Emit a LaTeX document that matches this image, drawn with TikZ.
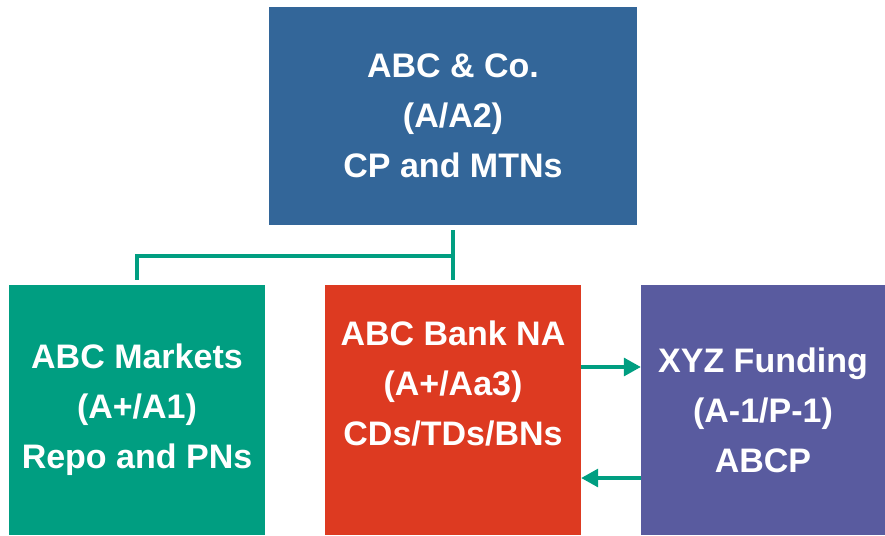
\documentclass[tikz,border=0pt]{standalone}
\usepackage{fontspec}
\setmainfont{Liberation Sans}
\usetikzlibrary{arrows.meta}

\definecolor{coblue}{HTML}{336699}
\definecolor{mktgreen}{HTML}{009E81}
\definecolor{bankred}{HTML}{DD3A21}
\definecolor{fundpurple}{HTML}{595B9F}

\begin{document}
\begin{tikzpicture}[x=1pt,y=-1pt,
    box/.style={draw=none,inner sep=0pt,text=white,align=center,
        font=\bfseries\fontsize{34}{50}\selectfont},
    link/.style={draw=mktgreen,line width=3.2pt},
    arr/.style={draw=mktgreen,line width=3.2pt,-{Triangle[length=17pt,width=18pt]}}]
                \useasboundingbox (0,0) rectangle (885,535);

                \node[box,fill=coblue,minimum width=368,minimum height=218] (co) at (453,116)
                    {ABC \& Co.\\(A/A2)\\CP and MTNs};
                \node[box,fill=mktgreen,minimum width=256,minimum height=250] (markets) at (137,410)
                    {ABC Markets\\(A+/A1)\\Repo and PNs};
                \node[box,fill=bankred,minimum width=256,minimum height=250,
                    label={[box,yshift=26]center:{ABC Bank NA\\(A+/Aa3)\\CDs/TDs/BNs}}] (bank) at (453,410) {};
                \node[box,fill=fundpurple,minimum width=244,minimum height=250] (xyz) at (763,410)
                    {XYZ Funding\\(A-1/P-1)\\ABCP};

                \coordinate (split) at (452,256);
                \draw[link] ([yshift=-5]co.south) -- ([yshift=5]bank.north);
                \draw[link] ([yshift=5]markets.north) |- (split);

                \draw[arr] ([yshift=43]bank.east) -- ([yshift=43]xyz.west);
                \draw[arr] ([yshift=-68]xyz.west) -- ([yshift=-68]bank.east);
            \end{tikzpicture}
\end{document}
